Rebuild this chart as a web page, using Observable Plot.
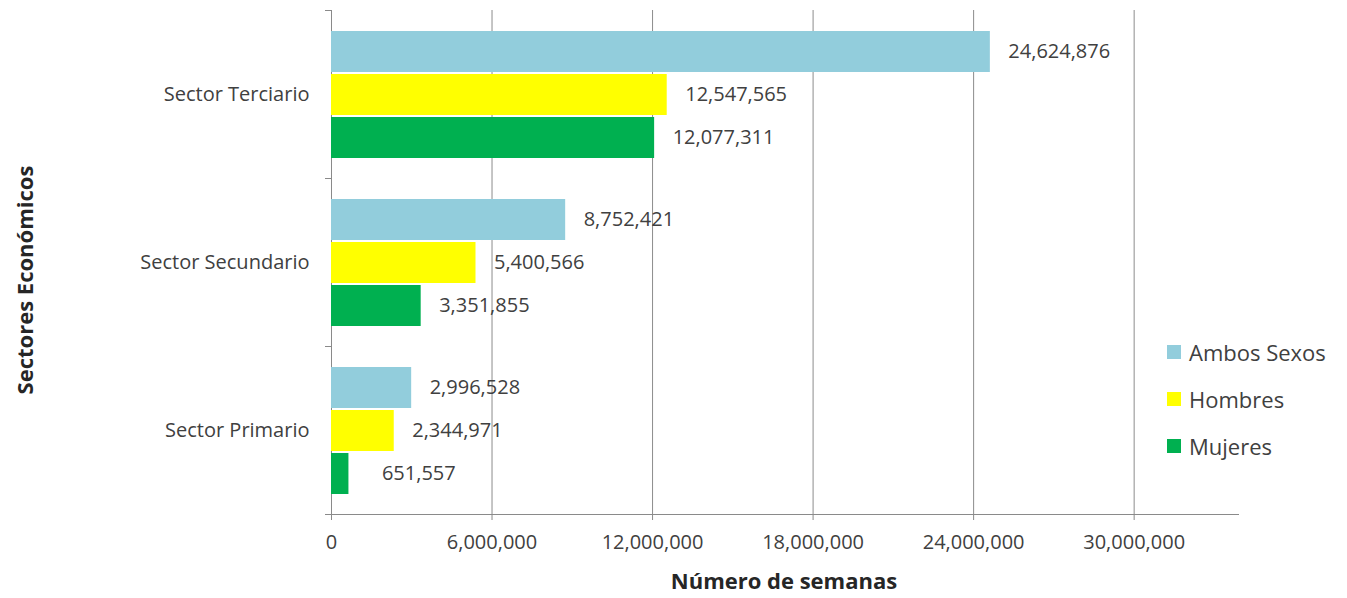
<!DOCTYPE html>
<html>
<head>
<meta charset="utf-8">
<script src="https://cdn.jsdelivr.net/npm/d3@7"></script>
<script src="https://cdn.jsdelivr.net/npm/@observablehq/plot@0.6"></script>
<style>
  html, body { margin: 0; padding: 0; background: #fff; }
  #wrap { position: relative; width: 1347px; height: 598px; font-family: 'Open Sans', sans-serif; color: #404040; }
  #chart svg text { fill: #404040; }
  .legend { position: absolute; left: 1167px; top: 328px; }
  .legend .item { display: flex; align-items: center; height: 47px; font-size: 22px; color: #404040; }
  .legend .sw { width: 14px; height: 14px; margin-right: 8px; }
  .xtitle { position: absolute; left: 584px; width: 400px; top: 565px; text-align: center; font-weight: bold; font-size: 22px; color: #262626; }
  .ytitle { position: absolute; left: 24px; top: 280px; transform: translate(-50%, -50%) rotate(-90deg); white-space: nowrap; font-weight: bold; font-size: 22px; color: #262626; }
</style>
</head>
<body>
<div id="wrap">
  <div id="chart"></div>
  <div class="legend" id="legend"></div>
  <div class="xtitle">Número de semanas</div>
  <div class="ytitle">Sectores Económicos</div>
</div>
<script>
const sectors = ["Sector Terciario", "Sector Secundario", "Sector Primario"];
const series = ["Ambos Sexos", "Hombres", "Mujeres"];
const ambos = [24624876, 8752421, 2996528];
const hombres = [12547565, 5400566, 2344971];
const mujeres = [12077311, 3351855, 651557];
const colors = ["#92CDDC", "#FFFF00", "#00B050"];
const xTicks = [0, 6000000, 12000000, 18000000, 24000000, 30000000];
const xMax = 33900000;

const valuesBySeries = [ambos, hombres, mujeres];
const rows = sectors.flatMap((s, i) => series.map((k, j) => ({sector: s, series: k, value: valuesBySeries[j][i]})));
const fmt = d3.format(",");

const plot = Plot.plot({
  width: 1347,
  height: 598,
  marginLeft: 331,
  marginRight: 109,
  marginTop: 10,
  marginBottom: 84,
  style: {fontFamily: "'Open Sans', sans-serif", fontSize: "20px", color: "#8a8a8a", background: "white", overflow: "visible"},
  facet: {data: rows, y: "sector"},
  fy: {domain: sectors, padding: 0, label: null, tickPadding: 22, tickSize: 0, axis: "left"},
  y: {domain: series, paddingInner: 0.05, paddingOuter: 0.45, axis: null},
  x: {domain: [0, xMax], ticks: xTicks, tickFormat: fmt, tickSize: 6, tickPadding: 14, line: true, label: null},
  color: {domain: series, range: colors},
  marks: [
    Plot.ruleX(xTicks.slice(1), {stroke: "#8c8c8c"}),
    Plot.ruleX([0], {stroke: "#8a8a8a"}),
    Plot.barX(rows, {x: "value", y: "series", fill: "series"}),
    Plot.text(rows, {filter: d => d.value >= 1000000, x: "value", y: "series", text: d => fmt(d.value), textAnchor: "start", dx: 18, fill: "#404040", fontSize: 20}),
    Plot.text(rows, {filter: d => d.value < 1000000, x: "value", y: "series", text: d => fmt(d.value), textAnchor: "start", dx: 33, fill: "#404040", fontSize: 20})
  ]
});
document.getElementById("chart").appendChild(plot);

// small tick marks at category boundaries on the y axis line
try {
  const fy = plot.scale("fy");
  const xs = plot.scale("x");
  if (fy && fy.apply && xs && xs.apply) {
    const x0 = xs.apply(0);
    const svg = d3.select(plot.tagName.toLowerCase() === "svg" ? plot : plot.querySelector("svg"));
    const ys = new Set();
    sectors.forEach(s => { const y0 = fy.apply(s); ys.add(Math.round(y0)); ys.add(Math.round(y0 + fy.bandwidth)); });
    ys.forEach(y => {
      svg.append("line").attr("x1", x0 - 6).attr("x2", x0).attr("y1", y + 0.5).attr("y2", y + 0.5).attr("stroke", "#8a8a8a");
    });
  }
} catch (e) {}

const legend = d3.select("#legend");
series.forEach((s, i) => {
  const item = legend.append("div").attr("class", "item");
  item.append("div").attr("class", "sw").style("background", colors[i]);
  item.append("span").text(s);
});
</script>
</body>
</html>
